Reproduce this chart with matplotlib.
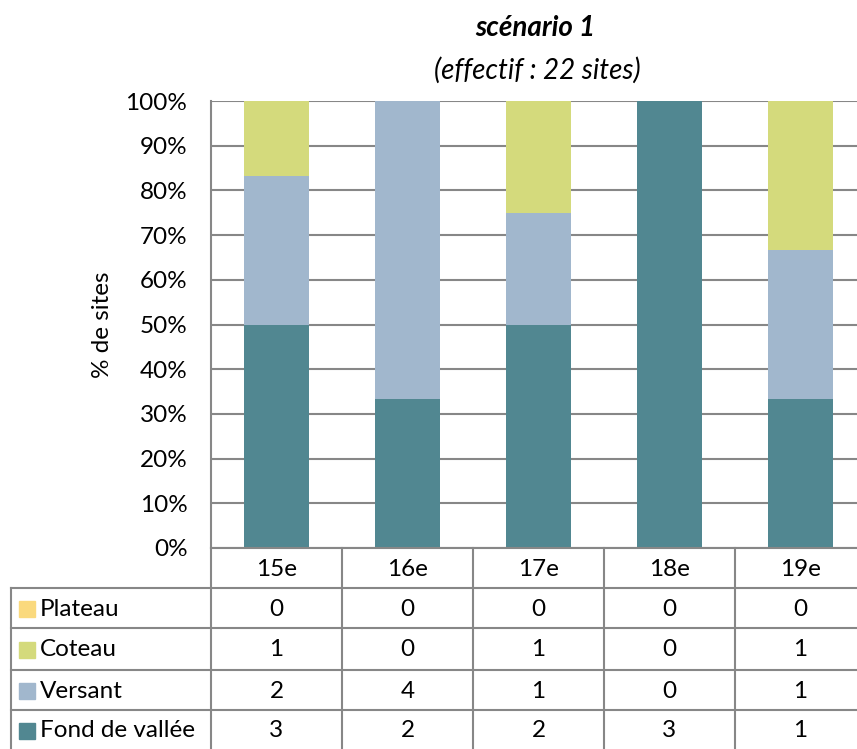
import matplotlib
matplotlib.use("Agg")
import matplotlib.pyplot as plt
import numpy as np
from matplotlib.patches import Rectangle

plt.rcParams['font.family'] = ['Lato', 'DejaVu Sans']

categories = ["15e", "16e", "17e", "18e", "19e"]
series_names = ["Plateau", "Coteau", "Versant", "Fond de vallée"]
plateau = [0, 0, 0, 0, 0]
coteau = [1, 0, 1, 0, 1]
versant = [2, 4, 1, 0, 1]
fond = [3, 2, 2, 3, 1]
colors = {"Plateau": "#FAD97D", "Coteau": "#D4DA7C", "Versant": "#A1B7CD", "Fond de vallée": "#518791"}
yticks = [0, 10, 20, 30, 40, 50, 60, 70, 80, 90, 100]

FS = 17.5
W, H = 857, 749
fig = plt.figure(figsize=(W / 100, H / 100), dpi=100)

L, R, T, B = 211, 866, 101, 548
ax = fig.add_axes([L / W, 1 - B / H, (R - L) / W, (B - T) / H])

series = {"Plateau": plateau, "Coteau": coteau, "Versant": versant, "Fond de vallée": fond}
totals = np.array(plateau) + np.array(coteau) + np.array(versant) + np.array(fond)
x = np.arange(len(categories))
bottom = np.zeros(len(categories))
for name in ["Fond de vallée", "Versant", "Coteau", "Plateau"]:
    vals = np.array(series[name]) / totals * 100
    ax.bar(x, vals, bottom=bottom, width=0.5, color=colors[name], zorder=3)
    bottom += vals

ax.set_xlim(-0.5, len(categories) - 0.5)
ax.set_ylim(0, 100)
ax.set_yticks(yticks)
ax.set_yticklabels([f"{v}%" for v in yticks], fontsize=FS)
ax.set_xticks([])
ax.grid(axis='y', color='#878787', linewidth=1.5, zorder=0)
for s in ["top", "right", "bottom"]:
    ax.spines[s].set_visible(False)
ax.spines["left"].set_color('#878787')
ax.spines["left"].set_linewidth(1.5)
ax.tick_params(axis='y', length=0, pad=17)
ax.set_ylabel("% de sites", fontsize=FS, labelpad=9)

# overlay in pixel coords for table
ov = fig.add_axes([0, 0, 1, 1], facecolor='none')
ov.set_xlim(0, W)
ov.set_ylim(H, 0)
ov.axis('off')

lc = '#878787'
lw = 1.5
ncol = len(categories)
colw = (R - L) / ncol
rows_y = [548, 588, 628, 670, 710, 752]
ov.plot([L, R], [rows_y[0], rows_y[0]], color=lc, lw=lw)
for i in range(ncol + 1):
    ov.plot([L + i * colw] * 2, [rows_y[0], rows_y[-1]], color=lc, lw=lw)
for j in range(1, len(rows_y)):
    ov.plot([11, R], [rows_y[j], rows_y[j]], color=lc, lw=lw)
ov.plot([11, 11], [rows_y[1], rows_y[-1]], color=lc, lw=lw)

for i, c in enumerate(categories):
    ov.text(L + (i + 0.5) * colw, (rows_y[0] + rows_y[1]) / 2 + 1, c, ha='center', va='center', fontsize=FS)

for j, name in enumerate(series_names):
    yc = (rows_y[j + 1] + min(rows_y[j + 2], 749)) / 2 + 1
    ov.add_patch(Rectangle((19, yc - 8), 16, 16, color=colors[name]))
    ov.text(40, yc, name, ha='left', va='center', fontsize=FS)
    for i, v in enumerate(series[name]):
        ov.text(L + (i + 0.5) * colw, yc, str(v), ha='center', va='center', fontsize=FS)

fig.text(535 / W, 1 - 28 / H, "scénario 1", ha='center', va='center', fontsize=20,
         fontweight='bold', fontstyle='italic')
fig.text(537 / W, 1 - 70 / H, "(effectif : 22 sites)", ha='center', va='center', fontsize=20,
         fontstyle='italic')

fig.savefig("out.png", dpi=100)
